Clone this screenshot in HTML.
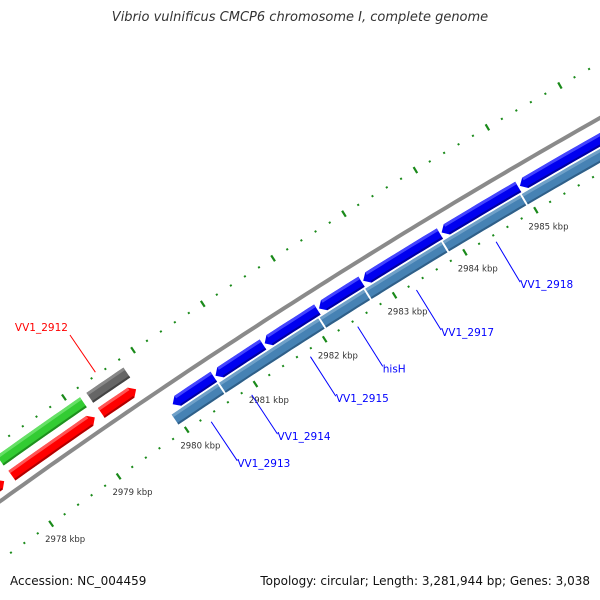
<!DOCTYPE html>
<html><head><meta charset="utf-8"><style>
html,body{margin:0;padding:0;background:#fff;overflow:hidden;width:600px;height:600px;}
#wrap{position:relative;width:600px;height:600px;overflow:hidden;font-family:"DejaVu Sans","Liberation Sans",sans-serif;}
.title{position:absolute;top:10px;left:0;width:600px;text-align:center;font-style:italic;font-size:13px;color:#333;}
.foot{position:absolute;top:574px;font-size:12px;color:#111;white-space:nowrap;}
</style></head><body>
<div id="wrap">
<div class="title">Vibrio vulnificus CMCP6 chromosome I, complete genome</div>
<svg id="map" width="600" height="600" style="position:absolute;left:0;top:0"></svg>
<div class="foot" style="left:10px">Accession: NC_004459</div>
<div class="foot" style="right:10px">Topology: circular; Length: 3,281,944 bp; Genes: 3,038</div>
</div>
<script>
// ---- data ----
const geneStarts = [2977.0, 2977.94, 2977.93, 2979.24, 2979.25, 2980.02, 2980.64, 2981.35, 2982.13, 2982.76, 2983.87, 2984.97, 2979.94, 2980.63, 2982.08, 2982.73, 2983.83, 2984.94];
const geneEnds   = [2977.85, 2979.18, 2979.17, 2979.80, 2979.78, 2980.64, 2981.35, 2982.13, 2982.76, 2983.87, 2984.97, 2986.5, 2980.63, 2982.08, 2982.73, 2983.83, 2984.94, 2986.5];
const geneTracks = ['red','red','green','gray','red','blue','blue','blue','blue','blue','blue','blue','steel','steel','steel','steel','steel','steel'];
const labelNames = ['VV1_2912','VV1_2913','VV1_2914','VV1_2915','hisH','VV1_2917','VV1_2918'];
const labelKbp   = [2979.48, 2980.30, 2980.89, 2981.74, 2982.42, 2983.26, 2984.39];
const labelSide  = ['out','in','in','in','in','in','in'];
const tickLabels = [2978, 2979, 2980, 2981, 2982, 2983, 2984, 2985];

// ---- geometry ----
const Rb = 6500, PXK = 82.5;
const d2r = Math.PI/180, phi0 = -124*d2r;
const CX = 188 + 0.559*(Rb-48), CY = 430 + 0.829*(Rb-48);
function pt(k, off){ const ph = phi0 + (k-2980)*PXK/(Rb-48); const r = Rb+off; return [CX + r*Math.cos(ph), CY + r*Math.sin(ph)]; }
const svg = document.getElementById('map'), NS = 'http://www.w3.org/2000/svg';
function mk(tag, attrs){ const e = document.createElementNS(NS, tag); for (const a in attrs) e.setAttribute(a, attrs[a]); svg.appendChild(e); return e; }
function arc(k1,k2,off){ const pts=[]; const n=Math.max(2,Math.ceil(Math.abs(k2-k1)/0.1)); for(let i=0;i<=n;i++){pts.push(pt(k1+(k2-k1)*i/n,off));} return pts; }
const f = p => p.map(q=>q[0].toFixed(1)+','+q[1].toFixed(1)).join(' ');

// backbone
const bb = mk('polyline',{points:f(arc(2975,2988,0)),fill:'none',stroke:'#8a8a8a','stroke-width':4});



// ticks
for (let i=0;i<=65;i++){
  const k = 2975 + i*0.2; const big = (i%5===0);
  [48,-48].forEach(o=>{
    const len = big?3.5:1;
    const a = pt(k,o-len), b = pt(k,o+len);
    const t = mk('line',{x1:a[0],y1:a[1],x2:b[0],y2:b[1],stroke:'#1a8a1a','stroke-width':big?2.2:2});
    
    
  });
}
tickLabels.forEach(k=>{
  const p = pt(k,-67);
  const t = mk('text',{x:p[0]+3,y:p[1]+3,'text-anchor':'middle','font-size':8.5,fill:'#333','font-family':'DejaVu Sans, Liberation Sans, sans-serif'});
  t.textContent = k+' kbp';
  
  
});

// genes
const trackOff = {red:14, green:33, gray:33, blue:-19, steel:-33};
const trackCol = {red:['#ff0000','#ff5555','#b00000'], green:['#33cc33','#66e066','#1f8f1f'], gray:['#666666','#888888','#444444'], blue:['#0000f0','#4444ff','#0000a0'], steel:['#4682b4','#6fa0c8','#2f5f88']};
const trackDir = {red:1, green:0, gray:0, blue:-1, steel:0};
const H = 6, AK = 6/PXK;
geneStarts.forEach((s,i)=>{
  const e = geneEnds[i], tr = geneTracks[i], o = trackOff[tr], dir = trackDir[tr], c = trackCol[tr];
  let poly;
  const g1 = s+0.012, g2 = e-0.012;
  if (dir===1){ poly = arc(g1,g2-AK,o+H).concat([pt(g2,o)], arc(g2-AK,g1,o-H)); }
  else if (dir===-1){ poly = [pt(g1,o)].concat(arc(g1+AK,g2,o+H), arc(g2,g1+AK,o-H)); }
  else { poly = arc(g1,g2,o+H).concat(arc(g2,g1,o-H)); }
  const b = mk('polygon',{points:f(poly),fill:c[0]});
  
  
  const a1 = dir===-1? g1+AK : g1, a2 = dir===1? g2-AK : g2;
  const top = mk('polygon',{points:f(arc(a1,a2,o+H).concat(arc(a2,a1,o+H-3))),fill:c[1]});
  
  
  const bot = mk('polygon',{points:f(arc(a1,a2,o-H+2).concat(arc(a2,a1,o-H))),fill:c[2]});
  
  
});

// gene labels
labelNames.forEach((n,i)=>{
  const k = labelKbp[i], out = labelSide[i]==='out';
  const col = out? '#ff0000':'#0000ff';
  const a = out? pt(k,51) : pt(k,-55), b = out? pt(k,96) : pt(k,-102);
  const l = mk('line',{x1:a[0],y1:a[1],x2:b[0],y2:b[1],stroke:col,'stroke-width':1});
  
  
  const t = mk('text',{x: out? b[0]-2 : b[0], y: out? b[1]-4 : b[1]+6,'text-anchor': out?'end':'start','font-size':10.5,fill:col,'font-family':'DejaVu Sans, Liberation Sans, sans-serif'});
  t.textContent = n;
  
  
});
</script>
</body></html>
